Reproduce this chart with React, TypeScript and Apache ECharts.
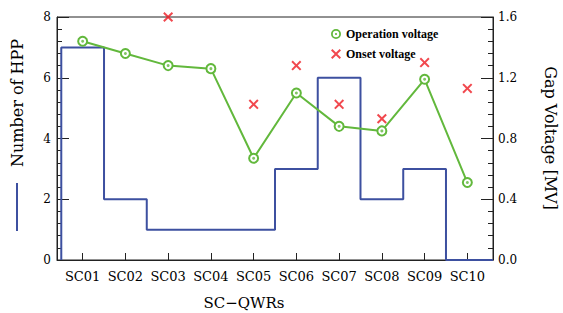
import React, { useEffect, useRef } from "react";
import * as echarts from "echarts";

const categories = ["SC01", "SC02", "SC03", "SC04", "SC05", "SC06", "SC07", "SC08", "SC09", "SC10"];
const hppCounts = [7, 2, 1, 1, 1, 3, 6, 2, 3, 0];
const operationVoltage = [1.44, 1.36, 1.28, 1.26, 0.67, 1.1, 0.88, 0.85, 1.19, 0.51];
const onsetVoltage: (number | null)[] = [null, null, 1.6, null, 1.025, 1.28, 1.025, 0.93, 1.3, 1.13];
const leftTicks = [0, 8, 2];
const rightTicks = [0, 1.6, 0.4];

const X_MIN = 0.4;
const X_MAX = 10.6;
const BLUE = "#3d50a0";
const GREEN = "#62b83c";
const RED = "#ee1a22";
const SERIF = "DejaVu Serif";
const CROSS = "path://M0,1.4L1.4,0L5,3.6L8.6,0L10,1.4L6.4,5L10,8.6L8.6,10L5,6.4L1.4,10L0,8.6L3.6,5Z";
const RING =
  "path://M0,5A5,5 0 1,0 10,5A5,5 0 1,0 0,5Z" +
  "M1.8,5A3.2,3.2 0 1,1 8.2,5A3.2,3.2 0 1,1 1.8,5Z" +
  "M3.9,5A1.1,1.1 0 1,0 6.1,5A1.1,1.1 0 1,0 3.9,5Z";

export default function App() {
  const ref = useRef<HTMLDivElement>(null);
  useEffect(() => {
    if (!ref.current) return;
    const chart = echarts.init(ref.current, undefined, { renderer: "svg" });
    const xs = categories.map((_, i) => i + 1);
    const stepPts: number[][] = [[0.5, 0]];
    hppCounts.forEach((v, i) => {
      stepPts.push([i + 0.5, v], [i + 1.5, v]);
    });
    stepPts.push([X_MAX, hppCounts[hppCounts.length - 1]]);
    const opData = operationVoltage.map((v, i) => [xs[i], v]);
    const onsetData = onsetVoltage
      .map((v, i) => (v == null ? null : [xs[i], v]))
      .filter((d) => d !== null);

    const axisLine = { show: true, lineStyle: { color: "#222", width: 1 } };
    const labelStyle = { fontFamily: SERIF, fontSize: 12, color: "#000" };

    chart.setOption({
      animation: false,
      grid: { left: 57, right: 70, top: 17, bottom: 53, show: true, borderColor: "#222", borderWidth: 1 },
      legend: {
        orient: "vertical",
        left: 331,
        top: 28,
        padding: 0,
        itemWidth: 10,
        itemHeight: 10,
        itemGap: 8,
        selectedMode: false,
        textStyle: { fontFamily: "Liberation Serif", fontWeight: "bold", fontSize: 12, color: "#000" },
        data: [
          { name: "Operation voltage", icon: RING, itemStyle: { color: GREEN, borderWidth: 0 } },
          { name: "Onset voltage", icon: CROSS, itemStyle: { color: RED, borderWidth: 0 } },
        ],
      },
      xAxis: {
        type: "value",
        min: X_MIN,
        max: X_MAX,
        axisLine,
        splitLine: { show: false },
        axisTick: { show: true, inside: true, length: 7, customValues: xs, lineStyle: { color: "#222" } },
        axisLabel: {
          ...labelStyle,
          fontSize: 13,
          margin: 10,
          customValues: xs,
          formatter: (v: number) => categories[Math.round(v) - 1] ?? "",
        },
      },
      yAxis: [
        {
          type: "value",
          min: leftTicks[0],
          max: leftTicks[1],
          interval: leftTicks[2],
          axisLine,
          splitLine: { show: false },
          axisTick: { show: true, inside: true, length: 12, lineStyle: { color: "#222" } },
          minorTick: { show: true, splitNumber: 5, length: 5, lineStyle: { color: "#222" } },
          axisLabel: { ...labelStyle, margin: 6 },
        },
        {
          type: "value",
          position: "right",
          min: rightTicks[0],
          max: rightTicks[1],
          interval: rightTicks[2],
          axisLine,
          splitLine: { show: false },
          axisTick: { show: true, inside: true, length: 12, lineStyle: { color: "#222" } },
          minorTick: { show: true, splitNumber: 5, length: 5, lineStyle: { color: "#222" } },
          axisLabel: { ...labelStyle, margin: 5, formatter: (v: number) => v.toFixed(1) },
        },
      ],
      series: [
        {
          name: "Number of HPP",
          type: "line",
          yAxisIndex: 0,
          data: stepPts,
          showSymbol: false,
          lineStyle: { color: BLUE, width: 2 },
          z: 2,
        },
        {
          name: "Operation voltage",
          type: "line",
          yAxisIndex: 1,
          data: opData,
          symbol: "emptyCircle",
          symbolSize: 9,
          itemStyle: { color: GREEN, borderColor: GREEN, borderWidth: 2 },
          lineStyle: { color: GREEN, width: 2 },
          z: 3,
        },
        {
          name: "Operation dots",
          type: "scatter",
          yAxisIndex: 1,
          data: opData,
          symbol: "circle",
          symbolSize: 3,
          itemStyle: { color: GREEN },
          z: 4,
        },
        {
          name: "Onset voltage",
          type: "scatter",
          yAxisIndex: 1,
          data: onsetData,
          symbol: CROSS,
          symbolSize: 10,
          clip: false,
          itemStyle: { color: RED },
          z: 5,
        },
      ],
      graphic: [
        {
          type: "text",
          x: 17,
          y: 103,
          rotation: Math.PI / 2,
          style: { text: "Number of HPP", fontFamily: SERIF, fontSize: 16, fill: "#000", align: "center", verticalAlign: "middle" },
        },
        {
          type: "line",
          shape: { x1: 17, y1: 183, x2: 17, y2: 231 },
          style: { stroke: BLUE, lineWidth: 2 },
        },
        {
          type: "text",
          x: 550,
          y: 138,
          rotation: -Math.PI / 2,
          style: { text: "Gap Voltage [MV]", fontFamily: SERIF, fontSize: 16, fill: "#000", align: "center", verticalAlign: "middle" },
        },
        {
          type: "text",
          x: 244,
          y: 303,
          style: { text: "SC\u2212QWRs", fontFamily: SERIF, fontSize: 15, fill: "#000", align: "center", verticalAlign: "middle" },
        },
      ],
    });
    return () => chart.dispose();
  }, []);
  return <div ref={ref} style={{ width: 563, height: 313, position: "absolute", left: 0, top: 0 }} />;
}
